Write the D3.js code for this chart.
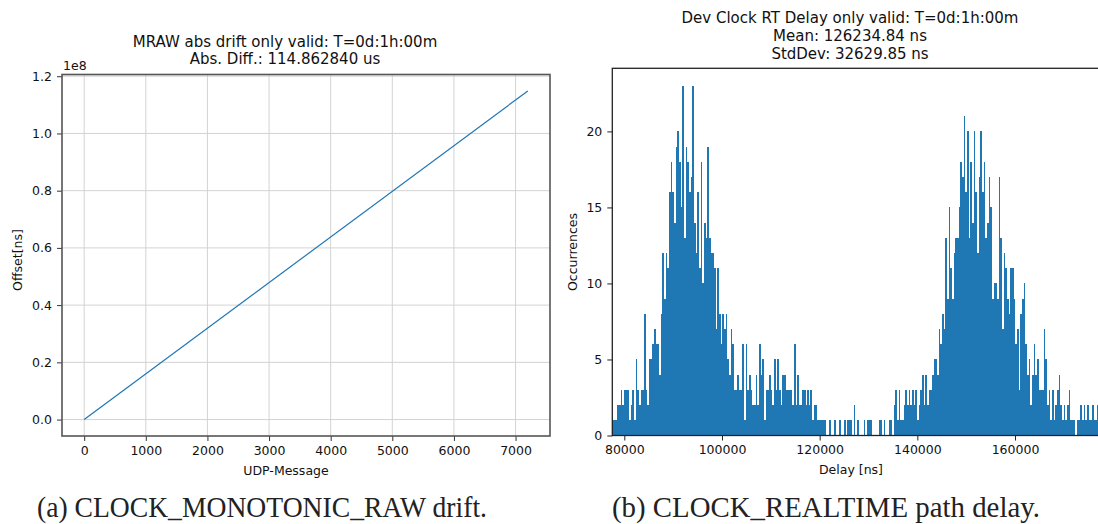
<!DOCTYPE html>
<html>
<head>
<meta charset="utf-8">
<script src="https://cdn.jsdelivr.net/npm/d3@7"></script>
<style>
  body { margin: 0; background: #fff; }
  svg { display: block; }
  text { font-family: "DejaVu Sans", sans-serif; fill: #111; }
  .caption { font-family: "Liberation Serif", "DejaVu Serif", serif; fill: #222; }
</style>
</head>
<body>
<svg id="chart" width="1098" height="524"></svg>
<script>
// ---- (a) MONOTONIC_RAW drift over the run ----
const driftMsg = [0, 7199];
const driftOffsetNs = [0, 114862840];
const driftTicksX = [0, 1000, 2000, 3000, 4000, 5000, 6000, 7000];
const driftTicksY = [0, 0.2e8, 0.4e8, 0.6e8, 0.8e8, 1.0e8, 1.2e8];
const driftTitle = ["MRAW abs drift only valid: T=0d:1h:00m", "Abs. Diff.: 114.862840 us"];

// ---- (b) REALTIME round-trip delay histogram ----
const delayBinStart = 77540;   // ns, left edge of first bin
const delayBinWidth = 341;     // ns
const delayCounts = [
  1, 1, 1, 2, 2, 3, 2, 3, 3, 3, 1, 2, 3, 1, 5, 3, 2, 3, 3, 8,
  3, 2, 5, 5, 6, 7, 6, 6, 4, 8, 12, 9, 12, 11, 16, 18, 16, 14, 19, 20,
  18, 15, 23, 13, 19, 18, 16, 17, 23, 14, 12, 16, 11, 18, 10, 14, 13, 19, 13, 12,
  12, 11, 7, 11, 8, 6, 8, 7, 8, 5, 4, 7, 6, 3, 3, 4, 3, 3, 6, 1,
  6, 3, 4, 3, 2, 2, 4, 2, 6, 4, 5, 1, 3, 3, 4, 3, 2, 5, 3, 5,
  3, 2, 4, 4, 3, 3, 3, 3, 2, 6, 2, 4, 2, 2, 3, 3, 2, 3, 2, 3,
  1, 2, 2, 1, 1, 1, 1, 1, 0, 0, 1, 0, 0, 1, 0, 0, 1, 0, 0, 1,
  0, 1, 1, 1, 0, 2, 0, 1, 0, 0, 0, 1, 0, 1, 1, 1, 0, 0, 0, 0,
  1, 1, 0, 1, 0, 0, 1, 1, 0, 2, 3, 1, 3, 1, 1, 2, 3, 2, 3, 2,
  3, 2, 3, 1, 2, 3, 4, 2, 4, 2, 3, 3, 4, 5, 5, 4, 7, 6, 8, 7,
  13, 9, 15, 11, 9, 12, 13, 13, 15, 18, 17, 21, 16, 20, 13, 18, 14, 20, 16, 12,
  17, 20, 16, 18, 13, 14, 17, 15, 9, 10, 10, 9, 17, 13, 7, 12, 11, 9, 8, 11,
  11, 9, 6, 7, 3, 8, 9, 10, 6, 4, 5, 2, 4, 6, 4, 5, 3, 3, 3, 7,
  5, 2, 3, 1, 3, 1, 2, 3, 4, 2, 1, 2, 1, 2, 3, 1, 1, 1, 0, 1,
  1, 2, 1, 2, 1, 2, 1, 1, 2, 1, 1, 2
];
const delayTicksX = [80000, 100000, 120000, 140000, 160000];
const delayTicksY = [0, 5, 10, 15, 20];
const delayTitle = ["Dev Clock RT Delay only valid: T=0d:1h:00m", "Mean: 126234.84 ns", "StdDev: 32629.85 ns"];

const captions = ["(a) CLOCK_MONOTONIC_RAW drift.", "(b) CLOCK_REALTIME path delay."];

const blue = "#1f77b4";
const svg = d3.select("#chart");

// ===== left panel =====
const L = { left: 62, right: 550, top: 74.5, bottom: 436 };
const xPad = (d3.max(driftMsg) - d3.min(driftMsg)) * 0.05;
const yPad = (d3.max(driftOffsetNs) - d3.min(driftOffsetNs)) * 0.05;
const xA = d3.scaleLinear()
  .domain([d3.min(driftMsg) - xPad, d3.max(driftMsg) + xPad])
  .range([L.left, L.right]);
const yA = d3.scaleLinear()
  .domain([d3.min(driftOffsetNs) - yPad, d3.max(driftOffsetNs) + yPad])
  .range([L.bottom, L.top]);

const gA = svg.append("g");
// grid
gA.append("g").selectAll("line").data(driftTicksX).join("line")
  .attr("x1", d => xA(d)).attr("x2", d => xA(d))
  .attr("y1", L.top).attr("y2", L.bottom)
  .attr("stroke", "#d3d3d3").attr("stroke-width", 1);
gA.append("g").selectAll("line").data(driftTicksY).join("line")
  .attr("y1", d => yA(d)).attr("y2", d => yA(d))
  .attr("x1", L.left).attr("x2", L.right)
  .attr("stroke", "#d3d3d3").attr("stroke-width", 1);

// drift line
gA.append("path")
  .datum(driftMsg.map((m, i) => [m, driftOffsetNs[i]]))
  .attr("d", d3.line().x(d => xA(d[0])).y(d => yA(d[1])))
  .attr("fill", "none").attr("stroke", blue).attr("stroke-width", 1.2);

// axes
const axA_x = d3.axisBottom(xA).tickValues(driftTicksX).tickSize(5).tickPadding(5)
  .tickFormat(d3.format("d"));
const axA_y = d3.axisLeft(yA).tickValues(driftTicksY).tickSize(5).tickPadding(5)
  .tickFormat(d => (d / 1e8).toFixed(1));
const gAx = gA.append("g").attr("transform", `translate(0,${L.bottom})`).call(axA_x);
const gAy = gA.append("g").attr("transform", `translate(${L.left},0)`).call(axA_y);
[gAx, gAy].forEach(g => {
  g.select(".domain").remove();
  g.selectAll(".tick line").attr("stroke", "#333").attr("stroke-width", 1);
  g.selectAll(".tick text").style("font-size", "12.5px").attr("fill", "#111");
});

// frame
gA.append("rect")
  .attr("x", L.left).attr("y", L.top)
  .attr("width", L.right - L.left).attr("height", L.bottom - L.top)
  .attr("fill", "none").attr("stroke", "#555").attr("stroke-width", 1.6);

gA.append("text").attr("x", 63).attr("y", 70).style("font-size", "12.5px").text("1e8");
gA.selectAll(".ttlA").data(driftTitle).join("text")
  .attr("x", 285).attr("y", (d, i) => 46.5 + i * 17.8)
  .attr("text-anchor", "middle").style("font-size", "15px").text(d => d);
gA.append("text").attr("x", 286).attr("y", 475)
  .attr("text-anchor", "middle").style("font-size", "12.5px").text("UDP-Message");
gA.append("text").attr("transform", "translate(22,260) rotate(-90)")
  .attr("text-anchor", "middle").style("font-size", "12.5px").text("Offset[ns]");

// ===== right panel =====
const R = { left: 612.3, top: 68.3, bottom: 435.5 };
const xMaxB = 179400;
const xB = d3.scaleLinear().domain([delayBinStart, xMaxB])
  .range([R.left, R.left + (xMaxB - delayBinStart) * (390.7 / 80000)]);
const yB = d3.scaleLinear().domain([0, d3.max(delayCounts) * 1.05]).range([R.bottom, R.top]);
R.right = xB.range()[1];

const gB = svg.append("g");
gB.append("g").attr("shape-rendering", "crispEdges").selectAll("rect")
  .data(delayCounts.map((c, i) => ({ x0: delayBinStart + i * delayBinWidth, c })))
  .join("rect")
  .attr("x", d => xB(d.x0))
  .attr("width", d => xB(d.x0 + delayBinWidth) - xB(d.x0) + 0.05)
  .attr("y", d => yB(d.c))
  .attr("height", d => yB(0) - yB(d.c))
  .attr("fill", blue);

const axB_x = d3.axisBottom(xB).tickValues(delayTicksX).tickSize(5).tickPadding(5)
  .tickFormat(d3.format("d"));
const axB_y = d3.axisLeft(yB).tickValues(delayTicksY).tickSize(5).tickPadding(5)
  .tickFormat(d3.format("d"));
const gBx = gB.append("g").attr("transform", `translate(0,${R.bottom})`).call(axB_x);
const gBy = gB.append("g").attr("transform", `translate(${R.left},0)`).call(axB_y);
[gBx, gBy].forEach(g => {
  g.select(".domain").remove();
  g.selectAll(".tick line").attr("stroke", "#222").attr("stroke-width", 1);
  g.selectAll(".tick text").style("font-size", "12.5px").attr("fill", "#111");
});
gB.append("rect")
  .attr("x", R.left).attr("y", R.top)
  .attr("width", R.right - R.left).attr("height", R.bottom - R.top)
  .attr("fill", "none").attr("stroke", "#222").attr("stroke-width", 1.3);

gB.selectAll(".ttlB").data(delayTitle).join("text")
  .attr("x", 850).attr("y", (d, i) => 23.3 + i * 18)
  .attr("text-anchor", "middle").style("font-size", "15px").text(d => d);
gB.append("text").attr("x", 851).attr("y", 474)
  .attr("text-anchor", "middle").style("font-size", "12.5px").text("Delay [ns]");
gB.append("text").attr("transform", "translate(577,252) rotate(-90)")
  .attr("text-anchor", "middle").style("font-size", "12.5px").text("Occurrences");

// ===== captions =====
svg.selectAll(".caption").data(captions).join("text")
  .attr("class", "caption")
  .attr("x", (d, i) => i === 0 ? 262 : 826)
  .attr("y", 517)
  .attr("text-anchor", "middle")
  .attr("textLength", (d, i) => i === 0 ? 450 : 428)
  .attr("lengthAdjust", "spacingAndGlyphs")
  .style("font-size", "29px")
  .text(d => d);
</script>
</body>
</html>
